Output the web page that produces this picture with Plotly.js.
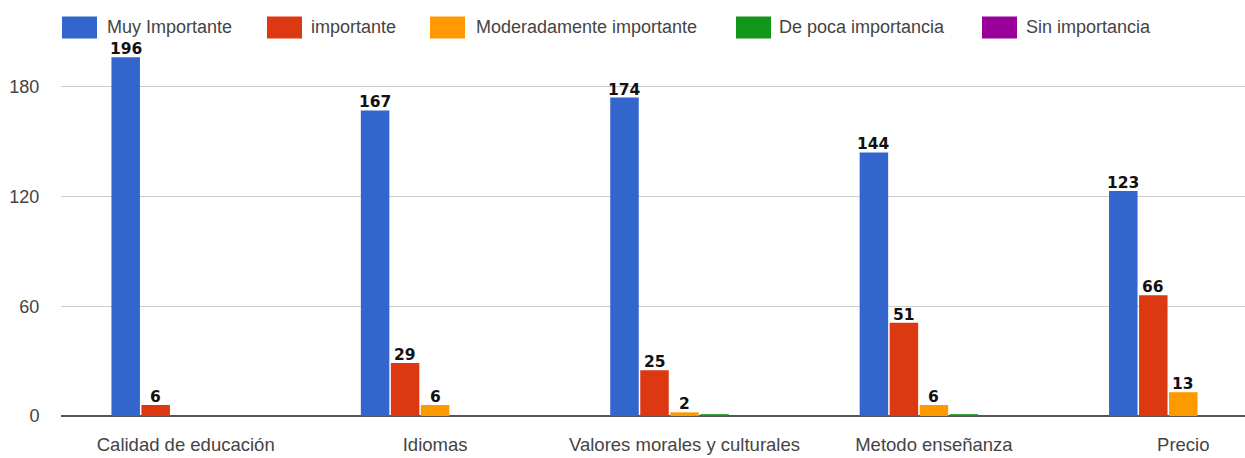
<!DOCTYPE html>
<html><head><meta charset="utf-8">
<script src="https://cdn.plot.ly/plotly-3.0.1.min.js"></script>
<style>html,body{margin:0;padding:0;background:#fff;overflow:hidden}#chart{width:1245px;height:458px}</style>
</head><body><div id="chart"></div>
<script>
const categories = ["Calidad de educación", "Idiomas", "Valores morales y culturales", "Metodo enseñanza", "Precio"];
const seriesNames = ["Muy Importante", "importante", "Moderadamente importante", "De poca importancia", "Sin importancia"];
const muyImportante = [196, 167, 174, 144, 123];
const importante = [6, 29, 25, 51, 66];
const moderadamente = [0, 6, 2, 6, 13];
const pocaImportancia = [0, 0, 1, 1, 0];
const sinImportancia = [0, 0, 0, 0, 0];
const yTicks = [0, 60, 120, 180];

const seriesValues = [muyImportante, importante, moderadamente, pocaImportancia, sinImportancia];
const colors = ["#3366cc", "#dc3912", "#ff9900", "#109618", "#990099"];

const W = 1245, H = 458;
const M = {l: 61, r: 0, t: 50, b: 42};
const plotW = W - M.l - M.r, plotH = H - M.t - M.b;
const px = x => (x - M.l) / plotW;
const py = y => (H - M.b - y) / plotH;

const FONT = '"Liberation Sans", Arial, sans-serif';
const BARGAP = 0.3985;
const nSeries = seriesValues.length;
const slot = (1 - BARGAP) / nSeries;

const traces = seriesValues.map((vals, i) => ({
  type: 'bar',
  name: seriesNames[i],
  x: categories,
  y: vals,
  marker: {color: colors[i], line: {width: 0}},
  hoverinfo: 'x+y+name',
  showlegend: false
}));

const shapes = [], annotations = [];

// value labels above bars (placed on the axes' own scales)
seriesValues.forEach((vals, i) => {
  vals.forEach((v, j) => {
    if (v < 2) return;
    annotations.push({xref: 'x', yref: 'y', x: j + (i - (nSeries - 1) / 2) * slot, y: v,
      xanchor: 'center', yanchor: 'bottom', yshift: -3, showarrow: false, text: String(v),
      font: {family: '"DejaVu Sans", Verdana, sans-serif', size: 15.5, color: '#111', weight: 'bold'}});
  });
});

// custom legend (large swatches)
const swatchX = [62, 267, 430, 736, 982];
const textX = [106, 310, 475, 778, 1025];
seriesNames.forEach((n, i) => {
  shapes.push({type: 'rect', xref: 'paper', yref: 'paper',
    x0: px(swatchX[i]), x1: px(swatchX[i] + 35), y0: py(38.5), y1: py(16.5),
    fillcolor: colors[i], line: {width: 0}});
  annotations.push({xref: 'paper', yref: 'paper', x: px(textX[i] - 1), y: py(27),
    xanchor: 'left', yanchor: 'middle', text: n, showarrow: false,
    font: {family: FONT, size: 18, color: '#444'}});
});

const layout = {
  width: W, height: H,
  margin: M,
  paper_bgcolor: '#fff', plot_bgcolor: '#fff',
  barmode: 'group',
  bargap: BARGAP,
  bargroupgap: 0.05,
  showlegend: false,
  xaxis: {
    type: 'category',
    range: [-0.5, -0.5 + plotW / 249.4],
    showgrid: false, zeroline: false, showline: false,
    ticks: 'outside', ticklen: 12, tickcolor: 'rgba(0,0,0,0)',
    tickfont: {family: FONT, size: 18.5, color: '#444'}
  },
  yaxis: {
    range: [0, 200],
    tickvals: yTicks,
    ticktext: yTicks.map(String),
    showgrid: true, gridcolor: '#cccccc', gridwidth: 1,
    zeroline: true, zerolinecolor: '#555', zerolinewidth: 2,
    showline: false,
    ticks: 'outside', ticklen: 17, tickcolor: 'rgba(0,0,0,0)',
    tickfont: {family: FONT, size: 18, color: '#444'}
  },
  shapes: shapes,
  annotations: annotations
};

Plotly.newPlot('chart', traces, layout, {displayModeBar: false, staticPlot: true});
</script></body></html>
